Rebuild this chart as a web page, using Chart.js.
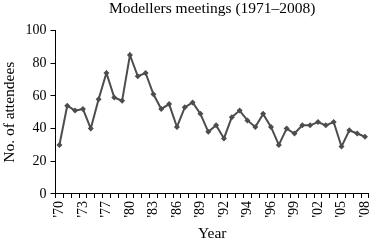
<!DOCTYPE html>
<html>
<head>
<meta charset="utf-8">
<script src="https://cdn.jsdelivr.net/npm/chart.js@4"></script>
<style>
  html, body { margin: 0; padding: 0; background: #fff; }
</style>
</head>
<body>
<canvas id="meetings" width="385" height="245"></canvas>
<script>
// one entry per meeting, labelled by year (only every third label is shown)
const years = ["'70", "'71", "'72", "'73", "'74", "'75", "'77", "'78", "'79", "'80",
               "'81", "'82", "'83", "'84", "'85", "'86", "'87", "'88", "'89", "'90",
               "'91", "'92", "'93", "'93", "'94", "'95", "'95", "'96", "'97", "'98",
               "'99", "'00", "'01", "'02", "'03", "'04", "'05", "'06", "'07", "'08"];
const attendees = [30, 54, 51, 52, 40, 58, 74, 59, 57, 85,
                   72, 74, 61, 52, 55, 41, 53, 56, 49, 38,
                   42, 34, 47, 51, 45, 41, 49, 41, 30, 40,
                   37, 42, 42, 44, 42, 44, 29, 39, 37, 35];
const yTicks = [0, 20, 40, 60, 80, 100];

const serif = 'Liberation Serif';
const ink = '#000';
const lineColor = '#4d4d4d';

new Chart(document.getElementById('meetings').getContext('2d'), {
    type: 'line',
    data: {
        labels: years,
        datasets: [{
            data: attendees,
            borderColor: lineColor,
            backgroundColor: lineColor,
            borderWidth: 2,
            tension: 0,
            pointStyle: 'rectRot',
            pointRadius: 3,
            pointBorderWidth: 0
        }]
    },
    options: {
        responsive: false,
        animation: false,
        devicePixelRatio: 1,
        layout: { padding: { left: 2, right: 1, top: 0, bottom: 1 } },
        plugins: {
            legend: { display: false },
            tooltip: { enabled: false },
            title: {
                display: true,
                fullSize: false,
                text: 'Modellers meetings (1971\u20132008)',
                color: ink,
                font: { family: serif, size: 15.5, weight: 'normal', lineHeight: 1 },
                padding: { top: 1, bottom: 14 }
            }
        },
        scales: {
            x: {
                type: 'category',
                offset: true,
                grid: { drawOnChartArea: false, offset: true, tickLength: 4, color: ink },
                border: { color: ink, width: 1 },
                ticks: {
                    autoSkip: false,
                    minRotation: 90,
                    maxRotation: 90,
                    padding: 3,
                    color: ink,
                    font: { family: serif, size: 14 },
                    callback: (val, i) => (i % 3 === 0 ? years[i] : '')
                },
                title: {
                    display: true,
                    text: 'Year',
                    color: ink,
                    font: { family: serif, size: 15.5, lineHeight: 1 },
                    padding: { top: 6, bottom: 2 }
                }
            },
            y: {
                min: yTicks[0],
                max: yTicks[yTicks.length - 1],
                grid: { drawOnChartArea: false, tickLength: 5, color: ink },
                border: { color: ink, width: 1 },
                afterBuildTicks: (axis) => { axis.ticks = yTicks.map(v => ({ value: v })); },
                ticks: {
                    padding: 4,
                    color: ink,
                    font: { family: serif, size: 14 }
                },
                title: {
                    display: true,
                    text: 'No. of attendees',
                    color: ink,
                    font: { family: serif, size: 15.5, lineHeight: 1 },
                    padding: { top: 0, bottom: 4 }
                }
            }
        }
    }
});
</script>
</body>
</html>
